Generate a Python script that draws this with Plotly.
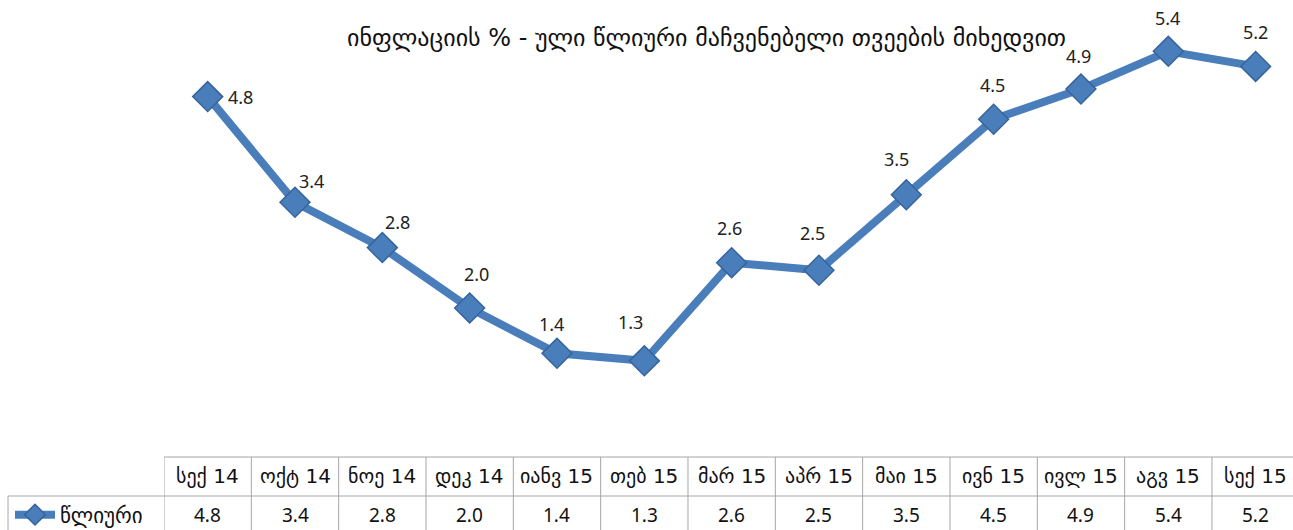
import plotly.graph_objects as go

# Monthly annual inflation, Sep 2014 - Sep 2015
months = ["სექ 14", "ოქტ 14", "ნოე 14", "დეკ 14", "იანვ 15", "თებ 15", "მარ 15",
          "აპრ 15", "მაი 15", "ივნ 15", "ივლ 15", "აგვ 15", "სექ 15"]
inflation = [4.8, 3.4, 2.8, 2.0, 1.4, 1.3, 2.6, 2.5, 3.5, 4.5, 4.9, 5.4, 5.2]
series_name = "წლიური"
title_text = "ინფლაციის % - ული წლიური მაჩვენებელი თვეების მიხედვით"

# label offsets (pixels) relative to each marker
label_dx = [33, 16, 15, 7, -5, -14, -2, -6, -10, -1, -2, -1, 0]
label_dy = [0, 21, 26, 34, 29, 39, 35, 37, 36, 34, 33, 33, 34]

W, H = 1293, 530
LEFT, TOP, BOTTOM = 164, 6, 71
PLOT_W, PLOT_H = W - LEFT, H - TOP - BOTTOM
LINE_BLUE = "#4A7EBB"
EDGE_BLUE = "#35649E"
GRID = "#A6A6A6"
NUM_FONT = "Noto Sans, DejaVu Sans, sans-serif"
GEO_FONT = "DejaVu Sans, Noto Sans, sans-serif"


def px_x(xp):
    return (xp - LEFT) / PLOT_W


def px_y(yp):
    return (H - BOTTOM - yp) / PLOT_H


n = len(months)
xs = list(range(n))

fig = go.Figure()
fig.add_trace(go.Scatter(
    x=xs, y=inflation, mode="lines+markers", name=series_name,
    line=dict(color=LINE_BLUE, width=8),
    marker=dict(symbol="diamond", size=23, color=LINE_BLUE,
                line=dict(color=EDGE_BLUE, width=1.5)),
    cliponaxis=False, showlegend=True,
))

annotations = []
for i, v in enumerate(inflation):
    annotations.append(dict(
        x=i, y=v, xref="x", yref="y", text=f"{v:.1f}", showarrow=False,
        xshift=label_dx[i], yshift=label_dy[i],
        font=dict(family=NUM_FONT, size=18, color="#222222"),
    ))

# data table under the chart
for i in range(n):
    annotations.append(dict(
        x=i, y=px_y(476), xref="x", yref="paper", text=months[i],
        showarrow=False, yanchor="middle",
        font=dict(family=GEO_FONT, size=20, color="#111111"),
    ))
    annotations.append(dict(
        x=i, y=px_y(515), xref="x", yref="paper", text=f"{inflation[i]:.1f}",
        showarrow=False, yanchor="middle",
        font=dict(family=NUM_FONT, size=19, color="#111111"),
    ))

annotations.append(dict(
    x=px_x(706), y=px_y(38), xref="paper", yref="paper", text=title_text,
    showarrow=False, xanchor="center", yanchor="middle",
    font=dict(family=GEO_FONT, size=24, color="#111111"),
))

shapes = []
line_style = dict(color=GRID, width=1)
# horizontal rules
shapes.append(dict(type="line", xref="x", yref="paper", x0=-0.5, x1=n - 0.5,
                   y0=px_y(457), y1=px_y(457), line=line_style))
shapes.append(dict(type="line", xref="paper", yref="paper",
                   x0=px_x(8), x1=1.02, y0=px_y(496), y1=px_y(496), line=line_style))
# vertical rules
for i in range(n + 1):
    shapes.append(dict(type="line", xref="x", yref="paper", x0=i - 0.5, x1=i - 0.5,
                       y0=px_y(457), y1=px_y(540), line=line_style))
shapes.append(dict(type="line", xref="paper", yref="paper",
                   x0=px_x(8), x1=px_x(8), y0=px_y(496), y1=px_y(540), line=line_style))

span = PLOT_W / 87.33
fig.update_layout(
    width=W, height=H,
    margin=dict(l=LEFT, r=0, t=TOP, b=BOTTOM),
    paper_bgcolor="white", plot_bgcolor="white",
    xaxis=dict(range=[-0.5, -0.5 + span], visible=False, fixedrange=True),
    yaxis=dict(range=[0, 6], visible=False, fixedrange=True),
    showlegend=True,
    legend=dict(xref="container", yref="container", x=10 / W, y=1 - 515 / H,
                xanchor="left", yanchor="middle", bgcolor="rgba(0,0,0,0)",
                itemwidth=40, tracegroupgap=0,
                font=dict(family=GEO_FONT, size=21, color="#111111")),
    annotations=annotations,
    shapes=shapes,
)

fig.write_html("out.html")
